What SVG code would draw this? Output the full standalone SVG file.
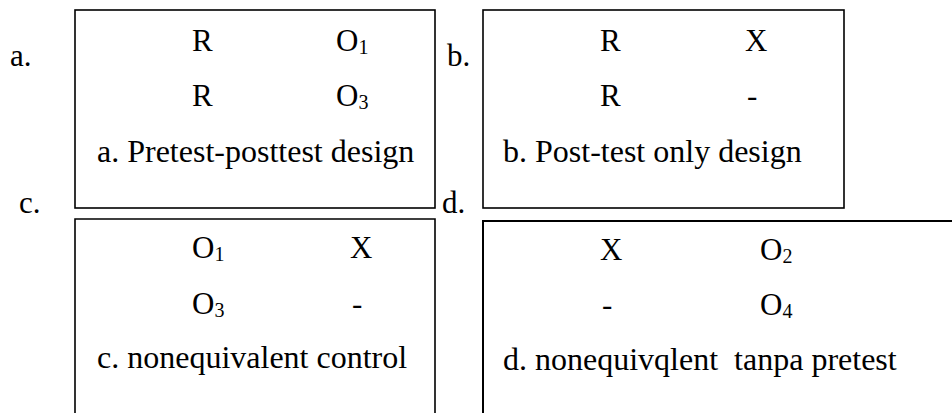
<svg xmlns="http://www.w3.org/2000/svg" width="952" height="413" viewBox="0 0 952 413">
<style>
text{font-family:"Liberation Serif","Times New Roman",serif;font-size:31px;fill:#000;white-space:pre}
.cap{font-size:32px}
.sub{font-size:20px}
.box{fill:#fff;stroke:#000;stroke-width:1.6}
</style>
<rect width="952" height="413" fill="#fff"/>
<g id="labels">
<text x="10" y="66">a.</text>
<text x="447" y="66">b.</text>
<text x="19" y="213">c.</text>
<text x="442" y="213">d.</text>
</g>
<g id="box-a">
<rect class="box" x="75" y="10" width="360" height="198"/>
<text x="192" y="51">R</text>
<text x="336" y="51">O<tspan class="sub" dy="3">1</tspan></text>
<text x="192" y="106">R</text>
<text x="336" y="106">O<tspan class="sub" dy="3">3</tspan></text>
<text class="cap" x="97" y="162">a. Pretest-posttest design</text>
</g>
<g id="box-b">
<rect class="box" x="483" y="10" width="361" height="198"/>
<text x="600" y="51">R</text>
<text x="745" y="51">X</text>
<text x="600" y="106">R</text>
<text x="747" y="106">-</text>
<text class="cap" x="503" y="162">b. Post-test only design</text>
</g>
<g id="box-c">
<path class="box" d="M75,420 V219 H435 V420"/>
<text x="192" y="258">O<tspan class="sub" dy="3">1</tspan></text>
<text x="350" y="258">X</text>
<text x="192" y="314">O<tspan class="sub" dy="3">3</tspan></text>
<text x="352" y="314">-</text>
<text class="cap" x="97" y="368">c. nonequivalent control</text>
</g>
<g id="box-d">
<path class="box" d="M483,420 V221 H960" style="stroke-width:2"/>
<text x="600" y="260">X</text>
<text x="760" y="260">O<tspan class="sub" dy="3">2</tspan></text>
<text x="602" y="315">-</text>
<text x="760" y="315">O<tspan class="sub" dy="3">4</tspan></text>
<text class="cap" x="503" y="370">d. nonequivqlent  tanpa pretest</text>
</g>
<g id="connectors"/>
</svg>
